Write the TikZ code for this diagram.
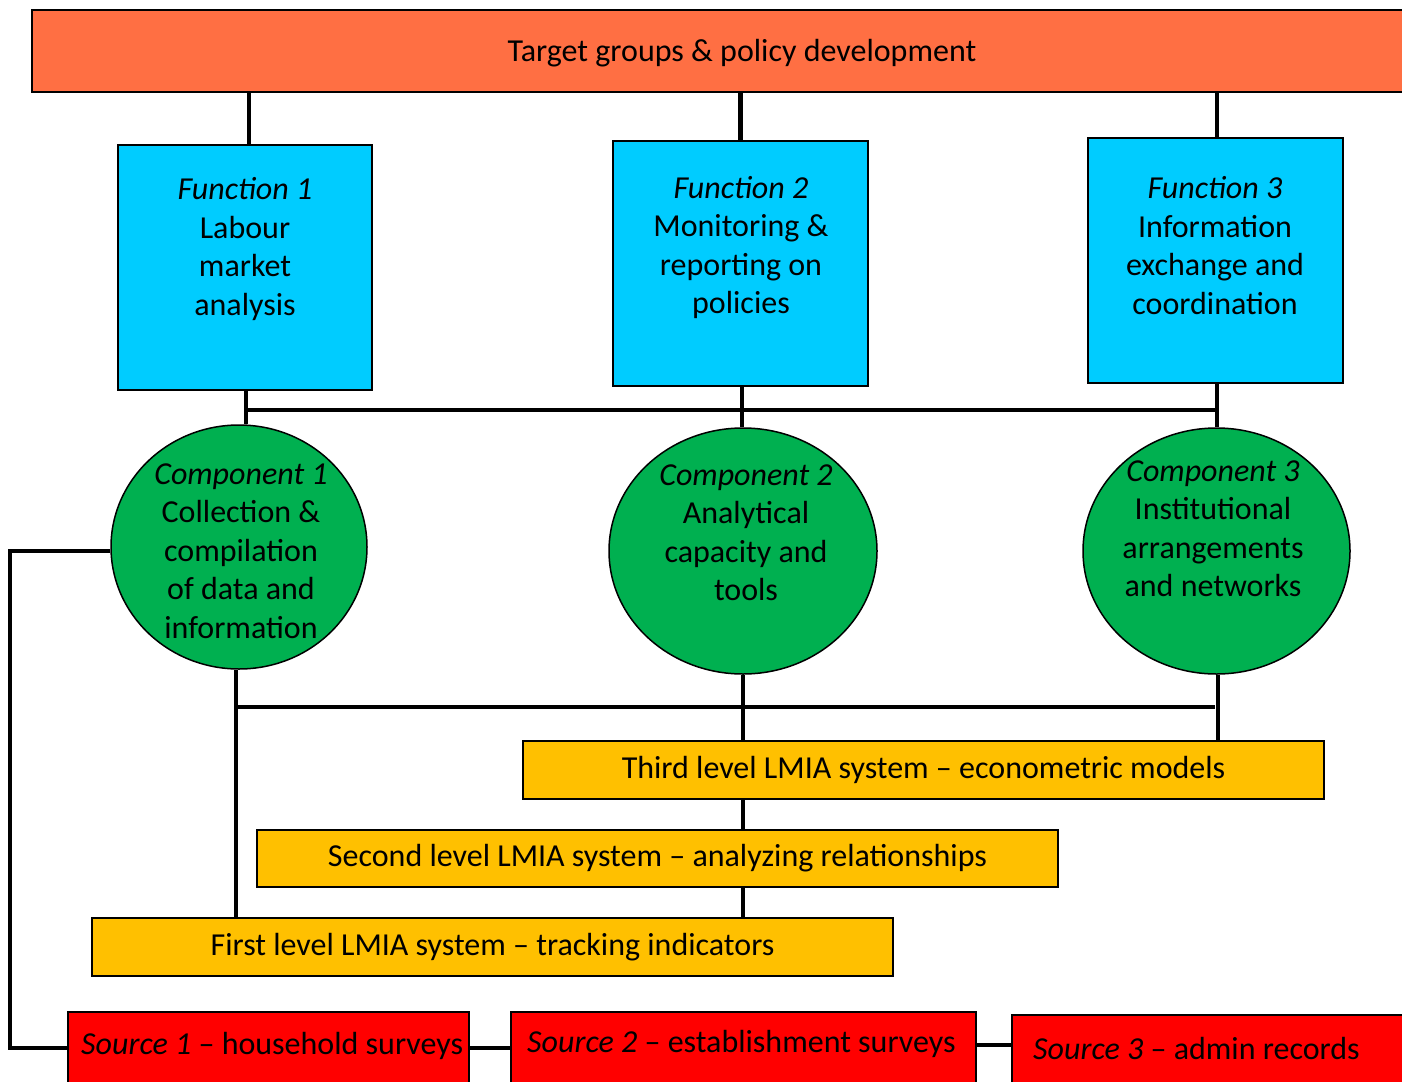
\documentclass[tikz,border=0pt]{standalone}
\usepackage{fontspec}
\setmainfont{Carlito}
\usetikzlibrary{shapes.geometric}
\definecolor{topc}{HTML}{FF6F43}
\definecolor{func}{HTML}{00CCFF}
\definecolor{comp}{HTML}{00B050}
\definecolor{lvl}{HTML}{FFC000}
\definecolor{src}{HTML}{FF0000}
\tikzset{
  box/.style={draw=black, line width=1.5pt, rectangle, inner sep=0pt},
  circ/.style={draw=black, line width=1.5pt, ellipse, inner sep=0pt, fill=comp},
  txt/.style={font=\fontsize{32}{38.5}\selectfont, align=center, inner sep=0pt},
  conn/.style={draw=black, line width=4.5pt}
}
\begin{document}
\begin{tikzpicture}[x=1pt,y=-1pt]
\useasboundingbox (0,0) rectangle (1402,1081);
\clip (0,0) rectangle (1402,1081);
\fill[white] (0,0) rectangle (1402,1081);
\node[box, fill=topc, minimum width=1420, minimum height=82] (top) at (742,51) {};
\node[txt] (topt) at (742,53) {Target groups \& policy development};
% functions
\node[box, fill=func, minimum width=254, minimum height=245] (f1) at (245,267.5) {};
\node[box, fill=func, minimum width=255, minimum height=245] (f2) at (740.5,263.5) {};
\node[box, fill=func, minimum width=255, minimum height=245] (f3) at (1215.5,260.5) {};
\node[txt] (f1t) at (245,249) {\textit{Function 1}\\Labour\\market\\analysis};
\node[txt] (f2t) at (741,247.5) {\textit{Function 2}\\Monitoring \&\\reporting on\\policies};
\node[txt] (f3t) at (1215,245.5) {\textit{Function 3}\\Information\\exchange and\\coordination};
% components
\node[circ, minimum width=256, minimum height=244] (c1) at (239,547) {};
\node[circ, minimum width=268, minimum height=246] (c2) at (743,551) {};
\node[circ, minimum width=267, minimum height=246] (c3) at (1216.5,551) {};
\node[txt] (c1t) at (241,551) {\textit{Component 1}\\Collection \&\\compilation\\of data and\\information};
\node[txt] (c2t) at (746,532.5) {\textit{Component 2}\\Analytical\\capacity and\\tools};
\node[txt] (c3t) at (1213,528.5) {\textit{Component 3}\\Institutional\\arrangements\\and networks};
% levels
\node[box, fill=lvl, minimum width=801, minimum height=58, txt] (l3) at (923.5,770) {Third level LMIA system -- econometric models};
\node[box, fill=lvl, minimum width=801, minimum height=57, txt] (l2) at (657.5,858.5) {Second level LMIA system -- analyzing relationships};
\node[box, fill=lvl, minimum width=801, minimum height=58, txt] (l1) at (492.5,947) {First level LMIA system -- tracking indicators};
% sources
\node[box, fill=src, minimum width=401, minimum height=72] (s1) at (268.5,1048) {};
\node[box, fill=src, minimum width=465, minimum height=72] (s2) at (743.5,1048) {};
\node[box, fill=src, minimum width=420, minimum height=69] (s3) at (1222,1049.5) {};
\node[txt, anchor=west] (s1t) at (81,1046) {\textit{Source 1} -- household surveys};
\node[txt, anchor=west] (s2t) at (527,1044) {\textit{Source 2} -- establishment surveys};
\node[txt, anchor=west] (s3t) at (1033,1048) {\textit{Source 3} -- admin records};
% connectors
\coordinate (busL) at (246,410);
\coordinate (busR) at (1217,410);
\coordinate (lbusL) at (236,707);
\coordinate (lbusR) at (1215,707);
\coordinate (loop) at (10,551);
\draw[conn] ([xshift=4pt]f1.north |- top.south) -- ([xshift=4pt]f1.north);
\draw[conn] (f2.north |- top.south) -- (f2.north);
\draw[conn] ([xshift=1.5pt]f3.north |- top.south) -- ([xshift=1.5pt]f3.north);
\draw[conn] ([xshift=1pt]f1.south) -- ([xshift=1pt]f1.south |- c1.north);
\draw[conn] ([xshift=1.5pt]f2.south) -- ([xshift=1.5pt]f2.south |- c2.north);
\draw[conn] ([xshift=1.5pt]f3.south) -- ([xshift=1.5pt]f3.south |- c3.north);
\draw[conn] (busL) -- (busR);
\draw[conn] (lbusL) -- (lbusR);
\draw[conn] (c1.south -| lbusL) -- (lbusL |- l1.north);
\draw[conn] (c2.south) -- (c2.south |- l3.north);
\draw[conn] ([xshift=1.5pt]c3.south) -- ([xshift=1.5pt]c3.south |- l3.north);
\draw[conn] (l3.south -| c2.south) -- (l2.north -| c2.south);
\draw[conn] (l2.south -| c2.south) -- (l1.north -| c2.south);
\draw[conn] (c1.west |- loop) -- (loop) |- (s1.west);
\draw[conn] (s1.east) -- (s2.west);
\draw[conn] ([yshift=3pt]s2.east) -- ([yshift=3pt]s2.east -| s3.west);
\end{tikzpicture}
\end{document}
